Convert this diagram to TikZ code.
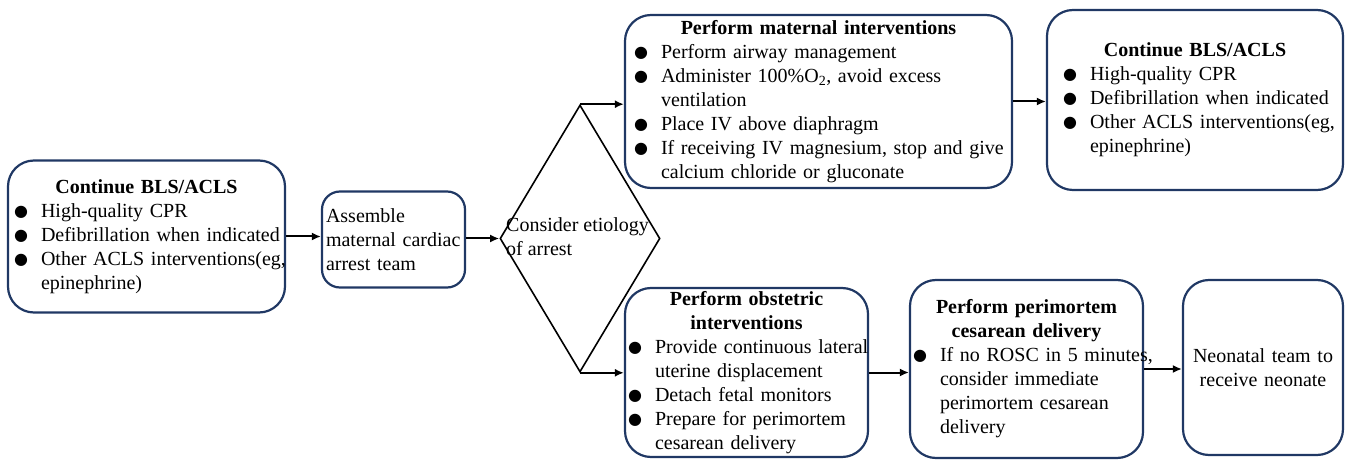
\documentclass[tikz,border=0pt]{standalone}
\usepackage{fontspec}
\setmainfont{Liberation Serif}
\newfontfamily\symfont{DejaVu Sans}
\usetikzlibrary{shapes.geometric,arrows.meta}
\definecolor{boxnavy}{RGB}{32,56,100}
\setlength{\parindent}{0pt}
\newlength{\bulw}\setlength{\bulw}{27pt}
\newcommand{\btitle}[1]{{\centering\bfseries #1\par}}
\newcommand{\bigdot}{\raisebox{1pt}{\symfont\fontsize{16}{24}\selectfont ●}}
\newcommand{\bulletline}[1]{\par\noindent\makebox[\bulw][l]{\bigdot}\mbox{#1}}
\newcommand{\moreline}[1]{\par\noindent\hspace*{\bulw}\mbox{#1}}
\tikzset{
  box/.style={draw=boxnavy, line width=2.2pt, rounded corners=26pt, align=left,
    font=\fontsize{20}{24}\selectfont, inner ysep=0pt},
  decision/.style={draw=black, line width=1.6pt, diamond, inner sep=0pt},
  flow/.style={line width=2pt, -{Latex[length=9pt,width=8pt]}},
}
\begin{document}
\begin{tikzpicture}[x=1pt,y=-1pt]
  \useasboundingbox (0,0) rectangle (1347,462);
  % left column
  \node[box, minimum width=277pt, minimum height=152pt, inner xsep=6pt, text width=265pt]
    (bls) at (146.5,236.5) {\btitle{Continue BLS/ACLS}
      \bulletline{High-quality CPR}
      \bulletline{Defibrillation when indicated}
      \bulletline{Other ACLS interventions(eg,}
      \moreline{epinephrine)}};
  \node[box, rounded corners=18pt, minimum width=143pt, minimum height=96pt, inner xsep=4pt, text width=135pt]
    (asm) at (393.5,239.5) {Assemble\\maternal cardiac\\arrest team};
  \node[decision, minimum width=160pt, minimum height=267pt] (etiol) at (580,238.5) {};
  \node[anchor=west, align=left, inner sep=0pt, font=\fontsize{20}{24}\selectfont]
    (etioltxt) at (506,237) {Consider etiology\\of arrest};
  % upper branch
  \node[box, minimum width=387pt, minimum height=173pt, inner xsep=9pt, text width=369pt]
    (mat) at (818.5,101.5) {\btitle{Perform maternal interventions}
      \bulletline{Perform airway management}
      \bulletline{Administer 100\%O\textsubscript{2}, avoid excess}
      \moreline{ventilation}
      \bulletline{Place IV above diaphragm}
      \bulletline{If receiving IV magnesium, stop and give}
      \moreline{calcium chloride or gluconate}};
  \node[box, minimum width=296pt, minimum height=180pt, inner xsep=16pt, text width=264pt]
    (bls2) at (1195,100) {\btitle{Continue BLS/ACLS}
      \bulletline{High-quality CPR}
      \bulletline{Defibrillation when indicated}
      \bulletline{Other ACLS interventions(eg,}
      \moreline{epinephrine)}};
  % lower branch
  \node[box, minimum width=243pt, minimum height=169pt, inner xsep=3pt, text width=237pt]
    (obs) at (746.5,372.5) {\btitle{Perform obstetric\\interventions}
      \bulletline{Provide continuous lateral}
      \moreline{uterine displacement}
      \bulletline{Detach fetal monitors}
      \bulletline{Prepare for perimortem}
      \moreline{cesarean delivery}};
  \node[box, minimum width=233pt, minimum height=178pt, inner xsep=3pt, text width=227pt]
    (pmc) at (1026.5,369) {\btitle{Perform perimortem\\cesarean delivery}
      \bulletline{If no ROSC in 5 minutes,}
      \moreline{consider immediate}
      \moreline{perimortem cesarean}
      \moreline{delivery}};
  \node[box, align=center, minimum width=160pt, minimum height=175pt, inner xsep=4pt, text width=152pt]
    (neo) at (1263,367.5) {Neonatal team to\\receive neonate};
  % connectors
  \draw[flow] (bls.east) -- (bls.east -| asm.west);
  \draw[flow] (asm.east |- etiol.west) -- (etiol.west);
  \draw[flow] (etiol.north) -- (etiol.north -| mat.west);
  \draw[flow] (etiol.south) -- (etiol.south -| obs.west);
  \draw[flow] (mat.east) -- (mat.east -| bls2.west);
  \draw[flow] (obs.east) -- (obs.east -| pmc.west);
  \draw[flow] (pmc.east) -- (pmc.east -| neo.west);
\end{tikzpicture}
\end{document}
